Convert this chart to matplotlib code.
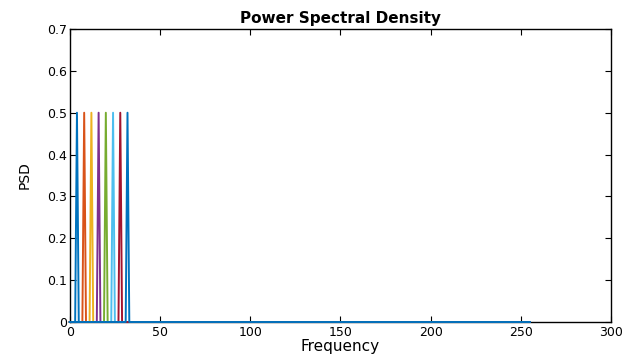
import numpy as np
import matplotlib
matplotlib.use("Agg")
import matplotlib.pyplot as plt

plt.rcParams['font.family'] = ['DejaVu Sans']

# Data
n_points = 256
spike_freqs = [4, 8, 12, 16, 20, 24, 28, 32]
spike_peaks = [0.5, 0.5, 0.5, 0.5, 0.5, 0.5, 0.5, 0.5]
colors = ['#0072BD', '#D95319', '#EDB120', '#7E2F8E', '#77AC30', '#4DBEEE', '#A2142F', '#0072BD']
xticks = [0, 50, 100, 150, 200, 250, 300]
yticks = [0, 0.1, 0.2, 0.3, 0.4, 0.5, 0.6, 0.7]
ytick_labels = ['0', '0.1', '0.2', '0.3', '0.4', '0.5', '0.6', '0.7']

fig = plt.figure(figsize=(6.34, 3.56), dpi=100)
ax = fig.add_axes([0.110, 0.0955, 0.854, 0.823])

freq = np.arange(n_points)
for f, p, c in zip(spike_freqs, spike_peaks, colors):
    psd = np.zeros(n_points)
    psd[f] = p
    ax.plot(freq, psd, color=c, lw=1.4, zorder=3, clip_on=False)

ax.set_xlim(0, 300)
ax.set_ylim(0, 0.7)
ax.set_xticks(xticks)
ax.set_yticks(yticks)
ax.set_yticklabels(ytick_labels)
ax.tick_params(direction='in', top=True, right=True, labelsize=9, length=4, width=0.8, pad=3)
ax.tick_params(axis='y', pad=2)
for s in ax.spines.values():
    s.set_linewidth(1.0)
ax.set_xlabel('Frequency', fontsize=11, labelpad=0)
ax.set_ylabel('PSD', fontsize=10, labelpad=11)
ax.set_title('Power Spectral Density', fontsize=11, fontweight='bold', pad=4)

fig.savefig('out.png', dpi=100)
